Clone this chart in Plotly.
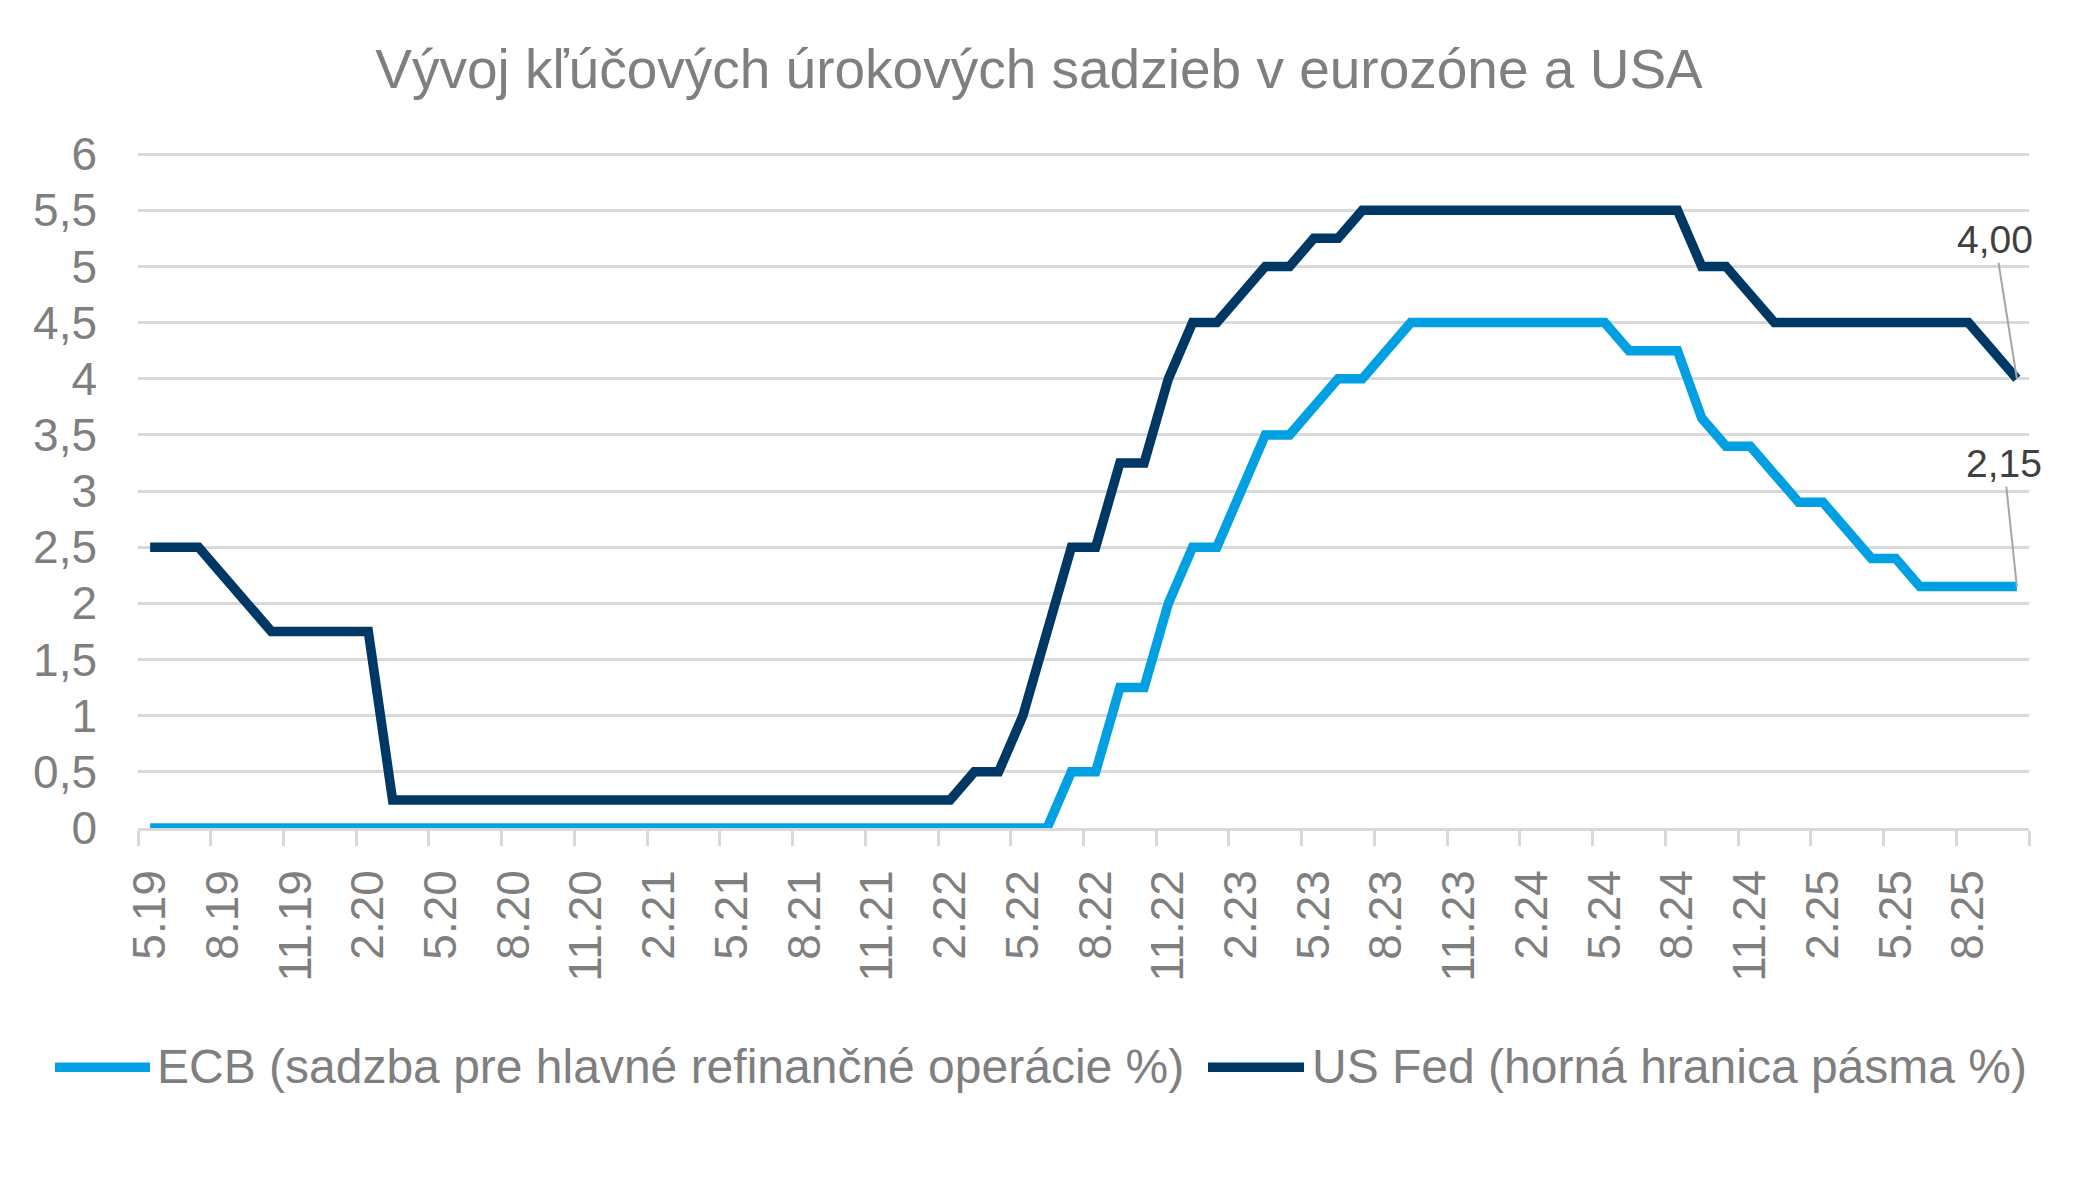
import plotly.graph_objects as go

# mesačné hodnoty 5.19 - 10.25
months = [
    "5.19", "6.19", "7.19", "8.19", "9.19", "10.19", "11.19", "12.19",
    "1.20", "2.20", "3.20", "4.20", "5.20", "6.20", "7.20", "8.20", "9.20", "10.20", "11.20", "12.20",
    "1.21", "2.21", "3.21", "4.21", "5.21", "6.21", "7.21", "8.21", "9.21", "10.21", "11.21", "12.21",
    "1.22", "2.22", "3.22", "4.22", "5.22", "6.22", "7.22", "8.22", "9.22", "10.22", "11.22", "12.22",
    "1.23", "2.23", "3.23", "4.23", "5.23", "6.23", "7.23", "8.23", "9.23", "10.23", "11.23", "12.23",
    "1.24", "2.24", "3.24", "4.24", "5.24", "6.24", "7.24", "8.24", "9.24", "10.24", "11.24", "12.24",
    "1.25", "2.25", "3.25", "4.25", "5.25", "6.25", "7.25", "8.25", "9.25", "10.25",
]

ecb = [
    0, 0, 0, 0, 0, 0, 0, 0,
    0, 0, 0, 0, 0, 0, 0, 0, 0, 0, 0, 0,
    0, 0, 0, 0, 0, 0, 0, 0, 0, 0, 0, 0,
    0, 0, 0, 0, 0, 0, 0.5, 0.5, 1.25, 1.25, 2.0, 2.5,
    2.5, 3.0, 3.5, 3.5, 3.75, 4.0, 4.0, 4.25, 4.5, 4.5, 4.5, 4.5,
    4.5, 4.5, 4.5, 4.5, 4.5, 4.25, 4.25, 4.25, 3.65, 3.4, 3.4, 3.15,
    2.9, 2.9, 2.65, 2.4, 2.4, 2.15, 2.15, 2.15, 2.15, 2.15,
]

fed = [
    2.5, 2.5, 2.5, 2.25, 2.0, 1.75, 1.75, 1.75,
    1.75, 1.75, 0.25, 0.25, 0.25, 0.25, 0.25, 0.25, 0.25, 0.25, 0.25, 0.25,
    0.25, 0.25, 0.25, 0.25, 0.25, 0.25, 0.25, 0.25, 0.25, 0.25, 0.25, 0.25,
    0.25, 0.25, 0.5, 0.5, 1.0, 1.75, 2.5, 2.5, 3.25, 3.25, 4.0, 4.5,
    4.5, 4.75, 5.0, 5.0, 5.25, 5.25, 5.5, 5.5, 5.5, 5.5, 5.5, 5.5,
    5.5, 5.5, 5.5, 5.5, 5.5, 5.5, 5.5, 5.5, 5.0, 5.0, 4.75, 4.5,
    4.5, 4.5, 4.5, 4.5, 4.5, 4.5, 4.5, 4.5, 4.25, 4.0,
]

series_names = [
    "ECB (sadzba pre hlavné refinančné operácie %)",
    "US Fed (horná hranica pásma %)",
]
series_colors = ["#00A0E3", "#003865"]

title = "Vývoj kľúčových úrokových sadzieb v eurozóne a USA"

# stránka má 8 px okraj, preto je graf o 16 px menší a súradnice posunuté
PAD = 8
W, H = 2079 - 2 * PAD, 1190 - 2 * PAD
Y_TOP = 6.01                      # aby sa vykreslila aj mriežka na 6
unit = (828.5 - 154) / 6          # px na 1 p.b.
L = 138 - PAD
R = W - (2029 - PAD)
B = H - (828.5 - PAD)
T = H - B - unit * Y_TOP
FONT = "Liberation Sans, Arial, sans-serif"
GRAY = "#7f7f7f"
GRID = "#d9d9d9"

# bod je v strede mesiaca, značky osi na hraniciach mesiacov
x = [i + 0.5 for i in range(len(months))]


def px_x(p):
    return (p - PAD - L) / (W - L - R)


def px_y(p):
    return (H - B - (p - PAD)) / (H - T - B)


def fmt(v):
    return f"{v:.2f}".replace(".", ",")


fig = go.Figure()
for vals, name, color in zip([ecb, fed], series_names, series_colors):
    fig.add_trace(go.Scatter(x=x, y=vals, mode="lines", name=name,
                             line=dict(color=color, width=9.5)))

# popisky poslednej hodnoty
fig.add_annotation(x=x[-1], y=fed[-1], text=fmt(fed[-1]), showarrow=True,
                   arrowhead=0, arrowwidth=2, arrowcolor="#a6a6a6", standoff=0,
                   ax=-22, ay=-139, font=dict(size=39, color="#404040", family=FONT))
fig.add_annotation(x=x[-1], y=ecb[-1], text=fmt(ecb[-1]), showarrow=True,
                   arrowhead=0, arrowwidth=2, arrowcolor="#a6a6a6", standoff=0,
                   ax=-13, ay=-123, font=dict(size=39, color="#404040", family=FONT))

# legenda ručne, aby sedela dĺžka čiar
legend_pos = [(55, 150, 155), (1208, 1304, 1310)]
for (x0, x1, tx), name, color in zip(legend_pos, series_names, series_colors):
    fig.add_shape(type="line", xref="paper", yref="paper",
                  x0=px_x(x0), x1=px_x(x1), y0=px_y(1068), y1=px_y(1068),
                  line=dict(color=color, width=9.5))
    fig.add_annotation(xref="paper", yref="paper", x=px_x(tx), y=px_y(1067),
                       xanchor="left", yanchor="middle", showarrow=False, text=name,
                       font=dict(size=48, color=GRAY, family=FONT))

fig.update_layout(
    width=W, height=H,
    margin=dict(l=L, r=R, t=T, b=B),
    plot_bgcolor="white", paper_bgcolor="white",
    showlegend=False,
    separators=", ",
    font=dict(family=FONT, size=46, color=GRAY),
    title=dict(text=title, x=(1039 - PAD) / W, xanchor="center", y=1 - 61 / H,
               yanchor="middle", yref="container",
               font=dict(size=55, color=GRAY, family=FONT)),
    xaxis=dict(
        range=[0, len(months)],
        tickvals=x[::3], ticktext=months[::3],
        tickangle=-90, ticks="", ticklabelstandoff=21,
        showgrid=False, zeroline=False,
        showline=True, linecolor=GRID, linewidth=2.5,
        tickfont=dict(size=46, color=GRAY),
        minor=dict(tickvals=list(range(0, len(months) + 1, 3)), ticks="outside",
                   ticklen=15, tickwidth=2.5, tickcolor=GRID, showgrid=False),
    ),
    yaxis=dict(
        range=[0, Y_TOP], dtick=0.5, tick0=0,
        showgrid=True, gridcolor=GRID, gridwidth=2.5,
        zeroline=False, showline=False, ticks="", ticklabelstandoff=40,
        tickfont=dict(size=46, color=GRAY),
    ),
)

fig.write_html("out.html")
